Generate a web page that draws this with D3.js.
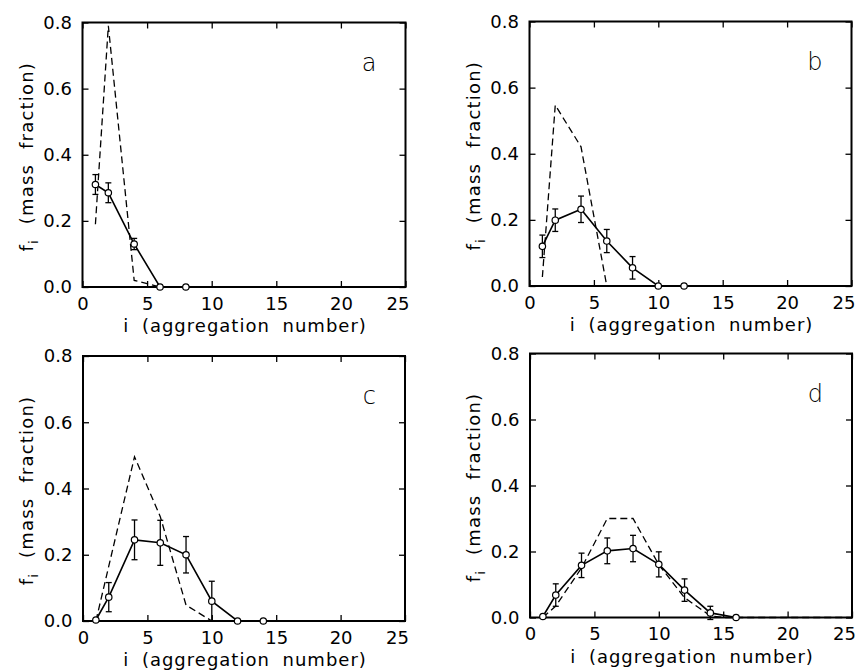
<!doctype html>
<html>
<head>
<meta charset="utf-8"/>
<style>
    html, body { margin: 0; padding: 0; background: #fff; }
    svg { display: block; }
    text { font-family: "DejaVu Sans", sans-serif; fill: #000; }
    .axis path { display: none; }
    .axis line { stroke: #000; stroke-width: 1.3; }
    .axis text { font-size: 18px; }
</style>
<script src="https://d3js.org/d3.v7.min.js"></script>
</head>
<body>
<svg id="chart" width="858" height="671"></svg>
<script>
// panel letters
var panelNames = ["a", "b", "c", "d"];

// measured mass fractions (circles, solid line) with error half-widths
var measI = [
    [1, 2, 4, 6, 8],
    [1, 2, 4, 6, 8, 10, 12],
    [1, 2, 4, 6, 8, 10, 12, 14],
    [1, 2, 4, 6, 8, 10, 12, 14, 16]
];
var measF = [
    [0.31, 0.285, 0.13, 0.0, 0.0],
    [0.12, 0.199, 0.232, 0.136, 0.055, 0.0, 0.0],
    [0.003, 0.072, 0.245, 0.236, 0.2, 0.06, 0.0, 0.0],
    [0.003, 0.068, 0.158, 0.202, 0.209, 0.161, 0.083, 0.014, 0.0]
];
var measErr = [
    [0.03, 0.03, 0.017, 0, 0],
    [0.034, 0.034, 0.04, 0.035, 0.034, 0, 0],
    [0, 0.044, 0.06, 0.068, 0.055, 0.06, 0, 0],
    [0, 0.034, 0.037, 0.039, 0.04, 0.038, 0.034, 0.02, 0]
];

// model curve (dashed line)
var modelI = [
    [1, 2, 4, 5, 6, 25],
    [1, 2, 4, 6, 25],
    [1, 4, 6, 8, 10, 25],
    [1, 2, 4, 6, 8, 10, 12, 14, 15, 25]
];
var modelF = [
    [0.19, 0.79, 0.02, 0.01, 0.0, 0.0],
    [0.027, 0.547, 0.421, 0.0, 0.0],
    [0.0, 0.496, 0.315, 0.048, 0.0, 0.0],
    [0.0, 0.035, 0.15, 0.30, 0.30, 0.16, 0.06, 0.005, 0.0, 0.0]
];

var xTicks = [0, 5, 10, 15, 20, 25];
var yTicks = [0, 0.2, 0.4, 0.6, 0.8];

var svg = d3.select("#chart");

// panel boxes: left, top, width, height
var boxes = [
    {x: 82.5, y: 22.5, w: 323, h: 264.5},
    {x: 529.5, y: 21.5, w: 322, h: 264.5},
    {x: 83, y: 356, w: 322, h: 265},
    {x: 530, y: 353.5, w: 322, h: 264}
];

boxes.forEach(function(b, p) {
    var g = svg.append("g").attr("transform", "translate(" + b.x + "," + b.y + ")");
    var x = d3.scaleLinear().domain([0, 25]).range([0, b.w]);
    var y = d3.scaleLinear().domain([0, 0.8]).range([b.h, 0]);

    var xa = g.append("g").attr("class", "axis")
        .attr("transform", "translate(0," + b.h + ")")
        .call(d3.axisBottom(x).tickValues(xTicks).tickSizeInner(-6).tickSizeOuter(0).tickPadding(10)
            .tickFormat(d3.format("d")));
    // last label sits a little left of its tick, as in the original
    xa.selectAll(".tick text").filter(function(d) { return d === 25; }).attr("dx", -8);
    g.append("g").attr("class", "axis")
        .call(d3.axisTop(x).tickValues(xTicks).tickSizeInner(-6).tickSizeOuter(0).tickFormat(""));
    g.append("g").attr("class", "axis")
        .call(d3.axisLeft(y).tickValues(yTicks).tickSizeInner(-6).tickSizeOuter(0).tickPadding(10.5)
            .tickFormat(d3.format(".1f")));
    g.append("g").attr("class", "axis")
        .attr("transform", "translate(" + b.w + ",0)")
        .call(d3.axisRight(y).tickValues(yTicks).tickSizeInner(-6).tickSizeOuter(0).tickFormat(""));

    g.append("rect")
        .attr("width", b.w).attr("height", b.h)
        .attr("fill", "none").attr("stroke", "#000").attr("stroke-width", 2);

    var line = d3.line().x(function(d) { return x(d[0]); }).y(function(d) { return y(d[1]); });

    var model = modelI[p].map(function(v, k) { return [v, modelF[p][k]]; });
    g.append("path").datum(model)
        .attr("d", line)
        .attr("fill", "none").attr("stroke", "#000")
        .attr("stroke-width", 1.3).attr("stroke-dasharray", "7,4");

    var meas = measI[p].map(function(v, k) { return [v, measF[p][k], measErr[p][k]]; });
    g.append("path").datum(meas)
        .attr("d", line)
        .attr("fill", "none").attr("stroke", "#000").attr("stroke-width", 1.6);

    var eb = g.append("g").selectAll("g").data(meas.filter(function(d) { return d[2] > 0; }))
        .enter().append("g").attr("stroke", "#000").attr("stroke-width", 1.3);
    eb.append("line")
        .attr("x1", function(d) { return x(d[0]); }).attr("x2", function(d) { return x(d[0]); })
        .attr("y1", function(d) { return y(d[1] - d[2]); }).attr("y2", function(d) { return y(d[1] + d[2]); });
    eb.append("line")
        .attr("x1", function(d) { return x(d[0]) - 3; }).attr("x2", function(d) { return x(d[0]) + 3; })
        .attr("y1", function(d) { return y(d[1] + d[2]); }).attr("y2", function(d) { return y(d[1] + d[2]); });
    eb.append("line")
        .attr("x1", function(d) { return x(d[0]) - 3; }).attr("x2", function(d) { return x(d[0]) + 3; })
        .attr("y1", function(d) { return y(d[1] - d[2]); }).attr("y2", function(d) { return y(d[1] - d[2]); });

    g.append("g").selectAll("circle").data(meas).enter().append("circle")
        .attr("cx", function(d) { return x(d[0]); })
        .attr("cy", function(d) { return y(d[1]); })
        .attr("r", 3.2)
        .attr("fill", "#fff").attr("stroke", "#000").attr("stroke-width", 1.2);

    // panel letter (thin, like the original lettering)
    g.append("text")
        .attr("x", b.w - 29).attr("y", 48)
        .attr("text-anchor", "end")
        .style("font-size", "24px").style("font-weight", 200)
        .text(panelNames[p]);

    // x title
    g.append("text")
        .attr("x", b.w / 2 + 1).attr("y", b.h + 45)
        .attr("text-anchor", "middle")
        .style("font-size", "18px").style("letter-spacing", "1px").style("word-spacing", "6px")
        .text("i (aggregation number)");

    // y title
    var yt = g.append("text")
        .attr("transform", "translate(-50," + (b.h / 2 + 2) + ") rotate(-90)")
        .attr("text-anchor", "middle")
        .style("font-size", "18px").style("letter-spacing", "1.2px").style("word-spacing", "8px");
    yt.append("tspan").text("f");
    yt.append("tspan").attr("dy", 5).style("font-size", "13px").text("i");
    yt.append("tspan").attr("dy", -5).text(" (mass fraction)");
});
</script>
</body>
</html>
